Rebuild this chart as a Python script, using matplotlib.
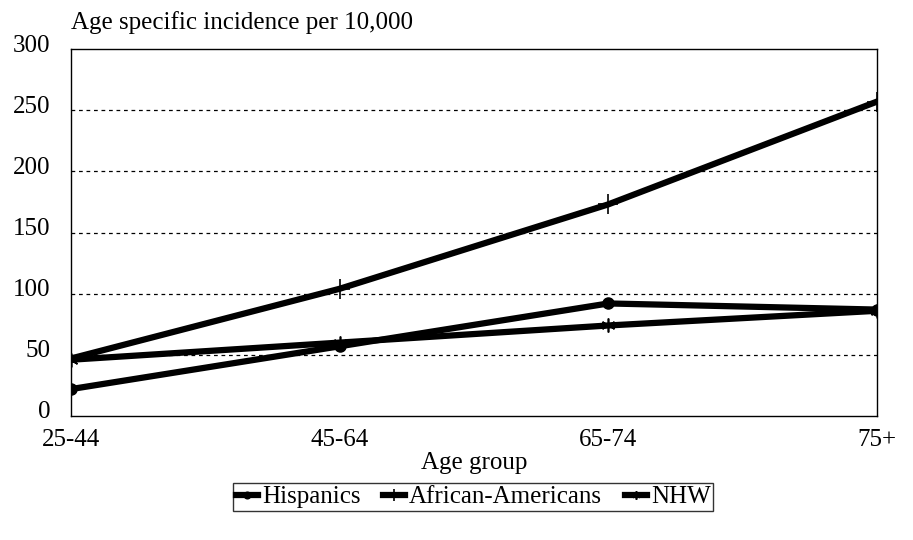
import matplotlib
matplotlib.use("Agg")
import matplotlib.pyplot as plt
from matplotlib.transforms import ScaledTranslation

categories = ["25-44", "45-64", "65-74", "75+"]
hispanics = [22, 57, 92, 87]
african_americans = [47, 104, 173, 257]
nhw = [46, 60, 74, 86]
yticks = [0, 50, 100, 150, 200, 250, 300]

plt.rcParams['font.family'] = ['Liberation Serif', 'DejaVu Serif']

fig = plt.figure(figsize=(9.13, 5.4), dpi=100)
ax = fig.add_axes([71/913, 1-416/540, (877-71)/913, (416-49)/540])

x = range(len(categories))
ax.plot(x, hispanics, color='black', lw=4.5, marker='o', ms=8, label='Hispanics')
ax.plot(x, african_americans, color='black', lw=4.5, marker='+', ms=14, mew=1.2, label='African-Americans')
ax.plot(x, nhw, color='black', lw=4.5, marker=(6, 2, 0), ms=10, mew=1.2, label='NHW')

ax.set_xlim(0, 3)
ax.set_ylim(0, 300)
ax.set_yticks(yticks)
ax.set_xticks(list(x))
ax.set_xticklabels(categories)
for v in yticks[1:-1]:
    ax.axhline(v, color='black', lw=0.9, ls=(0, (3, 3)), zorder=0)
for s in ax.spines.values():
    s.set_linewidth(1.0)
ax.tick_params(axis='both', length=0, labelsize=18)
ax.tick_params(axis='y', pad=15)
ax.tick_params(axis='x', pad=9)
off = ScaledTranslation(0, 0.06, fig.dpi_scale_trans)
for lab in ax.get_yticklabels():
    lab.set_transform(lab.get_transform() + off)

ax.text(0.0, 1.04, "Age specific incidence per 10,000", transform=ax.transAxes,
        fontsize=18, ha='left', va='bottom')
fig.text((71+877)/2/913, 1-463/540, "Age group", fontsize=18, ha='center', va='center')

leg = fig.legend(loc='center', bbox_to_anchor=(473/913, 1-497/540), ncol=3,
                 fontsize=18, frameon=True, fancybox=False, edgecolor='black',
                 handlelength=0.9, handletextpad=0.15, columnspacing=0.9,
                 borderpad=0.1, borderaxespad=0, markerscale=0.6)
leg.get_frame().set_linewidth(1.0)

fig.savefig("out.png", dpi=100)
